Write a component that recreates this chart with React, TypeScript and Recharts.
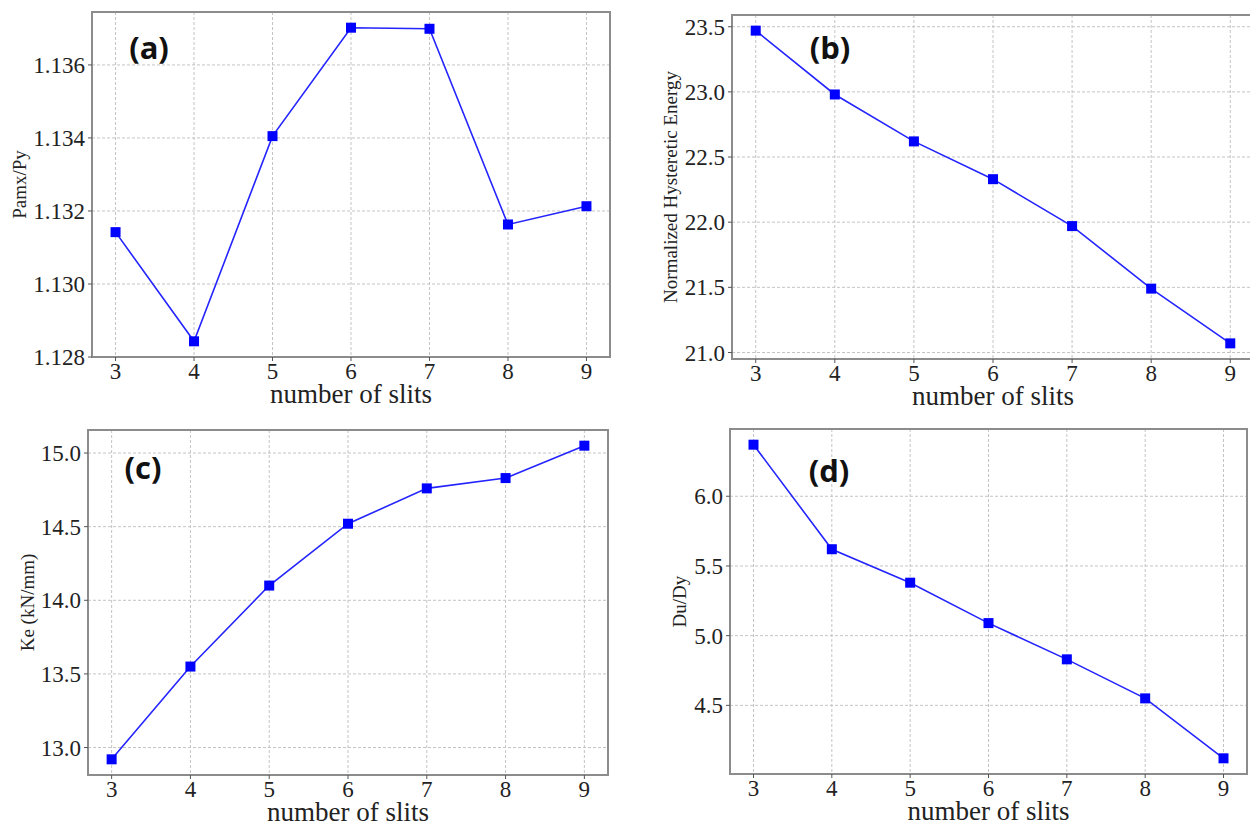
import { LineChart, Line, XAxis, YAxis, CartesianGrid, ReferenceArea } from "recharts";

const slits = [3, 4, 5, 6, 7, 8, 9];
const pmaxRatio = [1.13142, 1.12843, 1.13405, 1.13702, 1.13699, 1.13163, 1.13213];
const hysteretic = [23.47, 22.98, 22.62, 22.33, 21.97, 21.49, 21.07];
const stiffness = [12.92, 13.55, 14.1, 14.52, 14.76, 14.83, 15.05];
const ductility = [6.37, 5.62, 5.38, 5.09, 4.83, 4.55, 4.12];

const pmaxTicks = [1.128, 1.13, 1.132, 1.134, 1.136];
const hystTicks = [21.0, 21.5, 22.0, 22.5, 23.0, 23.5];
const stiffTicks = [13.0, 13.5, 14.0, 14.5, 15.0];
const ductTicks = [4.5, 5.0, 5.5, 6.0];

const SERIF = "Liberation Serif";
const Y_W = 80;
const X_H = 55;

// matplotlib-style 5% padding around the data
function pad(arr: number[]): [number, number] {
  const lo = Math.min(...arr);
  const hi = Math.max(...arr);
  const m = (hi - lo) * 0.05;
  return [lo - m, hi + m];
}

type PanelProps = {
  box: { x: number; y: number; w: number; h: number };
  plot: { l: number; t: number; r: number; b: number };
  values: number[];
  ticks: number[];
  digits: number;
  ylabel: string;
  labelX: number;
  tag: string;
  tagPos: { x: number; y: number };
};

function Square(p: any) {
  if (p.cx == null || p.cy == null) return null;
  return <rect key={p.index} x={p.cx - 5} y={p.cy - 5} width={10} height={10} fill="#0000ff" />;
}

function XTick(p: any) {
  return (
    <text x={p.x} y={p.y} dy="0.68em" textAnchor="middle" fill="#222"
      style={{ fontFamily: SERIF, fontSize: 23 }}>
      {p.payload.value}
    </text>
  );
}

function makeYTick(digits: number) {
  return function YTick(p: any) {
    return (
      <text x={p.x} y={p.y} dy="0.35em" textAnchor="end" fill="#222"
        style={{ fontFamily: SERIF, fontSize: 23 }}>
        {Number(p.payload.value).toFixed(digits)}
      </text>
    );
  };
}

function Panel({ box, plot, values, ticks, digits, ylabel, labelX, tag, tagPos }: PanelProps) {
  const data = slits.map((s, i) => ({ slits: s, value: values[i] }));
  const xDom = pad(slits);
  const yDom = pad(values);
  const margin = {
    left: plot.l - box.x - Y_W,
    top: plot.t - box.y,
    right: box.x + box.w - plot.r,
    bottom: box.y + box.h - plot.b - X_H,
  };
  const cx = (plot.l + plot.r) / 2 - box.x;
  const cy = (plot.t + plot.b) / 2 - box.y;
  return (
    <div style={{ position: "absolute", left: box.x, top: box.y, width: box.w, height: box.h }}>
      <LineChart width={box.w} height={box.h} data={data} margin={margin}>
        <CartesianGrid stroke="#c4c4c4" strokeDasharray="3 2" />
        <XAxis
          type="number"
          dataKey="slits"
          domain={xDom}
          ticks={slits}
          allowDataOverflow
          height={X_H}
          axisLine={false}
          tickSize={4}
          tickMargin={2}
          tickLine={{ stroke: "#555" }}
          tick={XTick}
          label={{
            content: () => (
              <text x={cx} y={plot.b - box.y + 46} textAnchor="middle" fill="#222"
                style={{ fontFamily: SERIF, fontSize: 27 }}>
                number of slits
              </text>
            ),
          }}
        />
        <YAxis
          type="number"
          domain={yDom}
          ticks={ticks}
          allowDataOverflow
          width={Y_W}
          axisLine={false}
          tickSize={4}
          tickMargin={3}
          tickLine={{ stroke: "#555" }}
          tick={makeYTick(digits)}
          label={{
            content: () => (
              <text x={labelX - box.x} y={cy} dy="0.35em" textAnchor="middle" fill="#222"
                transform={`rotate(-90 ${labelX - box.x} ${cy})`}
                style={{ fontFamily: SERIF, fontSize: 19 }}>
                {ylabel}
              </text>
            ),
          }}
        />
        <Line
          type="linear"
          dataKey="value"
          stroke="#2424ff"
          strokeWidth={1.6}
          dot={Square}
          activeDot={false}
          isAnimationActive={false}
        />
        <ReferenceArea
          x1={xDom[0]}
          x2={xDom[1]}
          y1={yDom[0]}
          y2={yDom[1]}
          fill="none"
          stroke="#8c8c8c"
          strokeWidth={2}
          ifOverflow="visible"
        />
      </LineChart>
      <div
        style={{
          position: "absolute",
          left: tagPos.x - box.x,
          top: tagPos.y - box.y,
          transform: "translate(-50%, -50%)",
          fontFamily: "'Open Sans', sans-serif",
          fontWeight: 700,
          fontSize: 31,
          color: "#111",
          lineHeight: 1,
          whiteSpace: "nowrap",
        }}
      >
        {tag}
      </div>
    </div>
  );
}

export default function App() {
  return (
    <div
      style={{
        position: "absolute",
        left: 0,
        top: 0,
        width: 1250,
        height: 825,
        overflow: "hidden",
        background: "#fff",
      }}
    >
      <Panel
        box={{ x: 0, y: 0, w: 625, h: 412 }}
        plot={{ l: 92, t: 12, r: 610, b: 357 }}
        values={pmaxRatio}
        ticks={pmaxTicks}
        digits={3}
        ylabel="Pamx/Py"
        labelX={19}
        tag="(a)"
        tagPos={{ x: 149, y: 47 }}
      />
      <Panel
        box={{ x: 625, y: 0, w: 640, h: 412 }}
        plot={{ l: 732, t: 15, r: 1254, b: 359 }}
        values={hysteretic}
        ticks={hystTicks}
        digits={1}
        ylabel="Normalized Hysteretic Energy"
        labelX={670}
        tag="(b)"
        tagPos={{ x: 830, y: 47 }}
      />
      <Panel
        box={{ x: 0, y: 412, w: 625, h: 413 }}
        plot={{ l: 88, t: 430, r: 608, b: 775 }}
        values={stiffness}
        ticks={stiffTicks}
        digits={1}
        ylabel="Ke (kN/mm)"
        labelX={27}
        tag="(c)"
        tagPos={{ x: 143, y: 467 }}
      />
      <Panel
        box={{ x: 625, y: 412, w: 625, h: 413 }}
        plot={{ l: 730, t: 429, r: 1247, b: 774 }}
        values={ductility}
        ticks={ductTicks}
        digits={1}
        ylabel="Du/Dy"
        labelX={679}
        tag="(d)"
        tagPos={{ x: 829, y: 470 }}
      />
    </div>
  );
}
